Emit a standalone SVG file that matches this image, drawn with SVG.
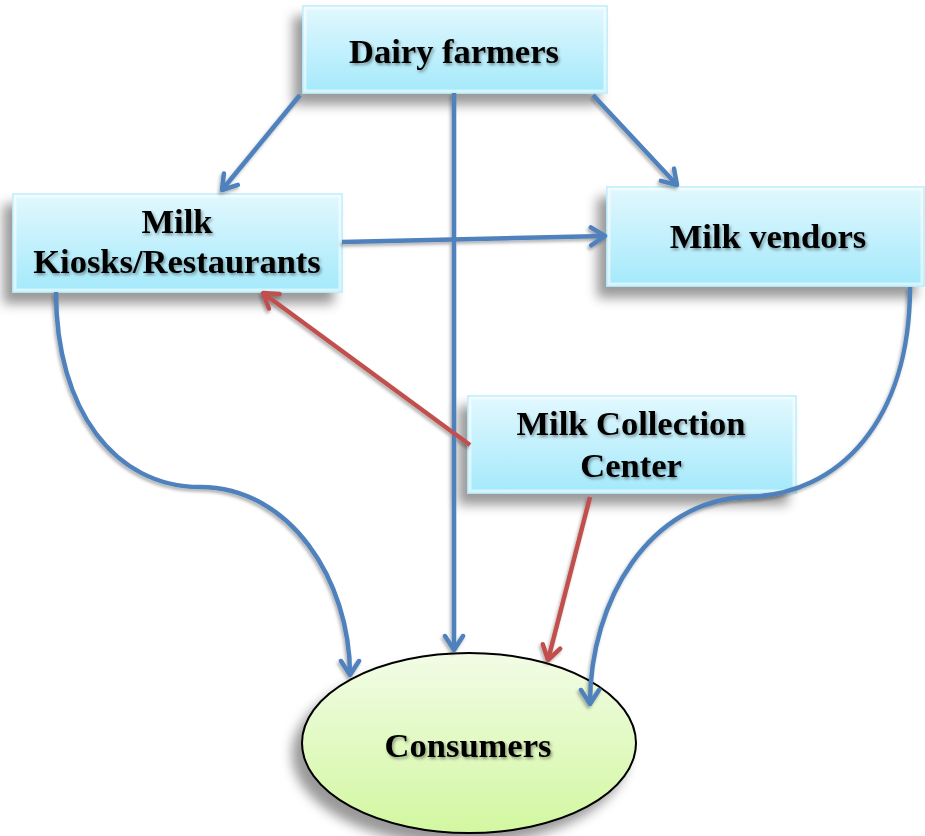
<svg xmlns="http://www.w3.org/2000/svg" width="925" height="836" viewBox="0 0 925 836">
<style>
.box{fill:url(#boxGrad);stroke:#B4ECFA;stroke-width:1.5}
.bevel{fill:none;stroke:#FFFFFF;stroke-opacity:0.55;stroke-width:3}
.lbl{font-family:"Liberation Serif","Times New Roman",serif;font-weight:bold;font-size:34.5px;fill:#000;text-anchor:middle}
.blue{fill:none;stroke:#4F81BD;stroke-width:4.5}
.red{fill:none;stroke:#C0504D;stroke-width:4.5}
</style>
<defs>
<linearGradient id="boxGrad" x1="0" y1="0" x2="0" y2="1">
<stop offset="0" stop-color="#E2F8FE"/>
<stop offset="1" stop-color="#A4E9FB"/>
</linearGradient>
<linearGradient id="ellGrad" x1="0" y1="0" x2="0" y2="1">
<stop offset="0" stop-color="#F2FCE6"/>
<stop offset="1" stop-color="#D2F7A0"/>
</linearGradient>
<filter id="nodeShadow" x="-20%" y="-20%" width="140%" height="150%">
<feDropShadow dx="-9" dy="11" stdDeviation="6" flood-color="#000" flood-opacity="0.4"/>
</filter>
<filter id="lineShadow" x="-20%" y="-20%" width="140%" height="140%">
<feDropShadow dx="-1.5" dy="2.5" stdDeviation="1.5" flood-color="#000" flood-opacity="0.3"/>
</filter>
<filter id="textShadow" x="-10%" y="-30%" width="120%" height="160%">
<feDropShadow dx="1.5" dy="2" stdDeviation="1.5" flood-color="#000" flood-opacity="0.4"/>
</filter>
<marker id="arrBlue" viewBox="0 0 24 24" refX="19" refY="12" markerWidth="24" markerHeight="24" markerUnits="userSpaceOnUse" orient="auto">
<path d="M5,3 L19,12 L5,21" fill="none" stroke="#4F81BD" stroke-width="4.5" stroke-linecap="round" stroke-linejoin="round"/>
</marker>
<marker id="arrRed" viewBox="0 0 24 24" refX="19" refY="12" markerWidth="24" markerHeight="24" markerUnits="userSpaceOnUse" orient="auto">
<path d="M5,3 L19,12 L5,21" fill="none" stroke="#C0504D" stroke-width="4.5" stroke-linecap="round" stroke-linejoin="round"/>
</marker>
</defs>
<rect width="925" height="836" fill="#FFFFFF"/>

<g id="node-consumers">
<ellipse cx="469" cy="743" rx="167" ry="90" fill="url(#ellGrad)" stroke="#000" stroke-width="2" filter="url(#nodeShadow)"/>
<text class="lbl" x="468" y="757" filter="url(#textShadow)">Consumers</text>
</g>

<g id="node-dairy-farmers">
<rect class="box" x="303" y="6" width="304" height="87" filter="url(#nodeShadow)"/>
<rect class="bevel" x="305" y="8" width="300" height="83"/>
<text class="lbl" x="454" y="63" filter="url(#textShadow)">Dairy farmers</text>
</g>

<g id="node-kiosks">
<rect class="box" x="13" y="194" width="329" height="98" filter="url(#nodeShadow)"/>
<rect class="bevel" x="15" y="196" width="325" height="94"/>
<text class="lbl" x="177" y="233" filter="url(#textShadow)">Milk</text>
<text class="lbl" x="177" y="273" filter="url(#textShadow)">Kiosks/Restaurants</text>
</g>

<g id="node-vendors">
<rect class="box" x="607" y="187" width="317" height="99" filter="url(#nodeShadow)"/>
<rect class="bevel" x="609" y="189" width="313" height="95"/>
<text class="lbl" x="768" y="248" filter="url(#textShadow)">Milk vendors</text>
</g>

<g id="node-collection">
<rect class="box" x="468" y="396" width="328" height="97" filter="url(#nodeShadow)"/>
<rect class="bevel" x="470" y="398" width="324" height="93"/>
<text class="lbl" x="631" y="435" filter="url(#textShadow)">Milk Collection</text>
<text class="lbl" x="631" y="477" filter="url(#textShadow)">Center</text>
</g>

<g id="connectors" filter="url(#lineShadow)">
<line class="blue" x1="300" y1="95" x2="222" y2="190" marker-end="url(#arrBlue)"/>
<line class="blue" x1="454" y1="93" x2="454" y2="650" marker-end="url(#arrBlue)"/>
<line class="blue" x1="593" y1="95" x2="677" y2="185" marker-end="url(#arrBlue)"/>
<line class="blue" x1="342" y1="242" x2="605" y2="236" marker-end="url(#arrBlue)"/>
<path class="blue" d="M56,292 C56,410 115,487 200,487 C290,487 350,580 350,675" marker-end="url(#arrBlue)"/>
<path class="blue" d="M910,287 C910,420 840,495 747,497 C650,500 590,600 590,704" marker-end="url(#arrBlue)"/>
<line class="red" x1="470" y1="445" x2="263" y2="293" marker-end="url(#arrRed)"/>
<line class="red" x1="590" y1="497" x2="548" y2="660" marker-end="url(#arrRed)"/>
</g>
</svg>
